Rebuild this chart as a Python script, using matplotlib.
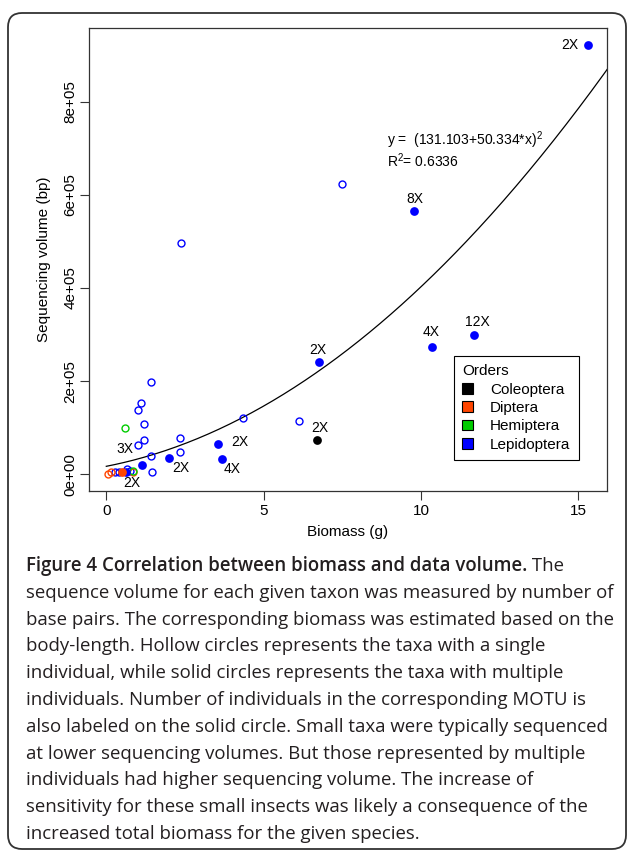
import matplotlib
matplotlib.use("Agg")
import matplotlib.pyplot as plt
import numpy as np
from matplotlib.patches import FancyBboxPatch, Patch
from matplotlib.transforms import IdentityTransform

# ---------------- data ----------------
orders = ["Coleoptera", "Diptera", "Hemiptera", "Lepidoptera"]
order_colors = ["#000000", "#FF4500", "#00CC00", "#0000FF"]

# hollow circles: taxa with a single individual
lep_single_x = [0.29, 0.40, 0.66, 0.75, 1.00, 1.01, 1.11, 1.19, 1.20, 1.42, 1.42, 1.45,
                2.34, 2.34, 2.36, 4.34, 6.12, 7.50]
lep_single_y = [6e3, 6e3, 1.1e4, 8e3, 6.3e4, 1.39e5, 1.53e5, 1.07e5, 7.3e4, 1.98e5, 3.9e4, 6e3,
                7.9e4, 4.8e4, 4.96e5, 1.20e5, 1.14e5, 6.24e5]
dip_single_x = [0.06, 0.14, 0.84]
dip_single_y = [1e3, 5e3, 4e3]
hem_single_x = [0.60, 0.84]
hem_single_y = [9.9e4, 7e3]

# solid circles: taxa with multiple individuals
lep_multi_x = [0.62, 1.12, 2.00, 3.54, 3.69, 6.76, 9.79, 10.35, 11.69, 15.30]
lep_multi_y = [5e3, 2.1e4, 3.4e4, 6.4e4, 3.2e4, 2.41e5, 5.65e5, 2.73e5, 3.00e5, 9.21e5]
lep_multi_lab = ["", "3X", "2X", "2X", "4X", "2X", "8X", "4X", "12X", "2X"]
col_multi_x = [6.69]
col_multi_y = [7.3e4]
col_multi_lab = ["2X"]
dip_multi_x = [0.51]
dip_multi_y = [6e3]
dip_multi_lab = ["2X"]

fit_a, fit_b, fit_r2 = 131.103, 50.334, 0.6336

xticks = [0, 5, 10, 15]
yticks = [0, 2e5, 4e5, 6e5, 8e5]
ytick_labels = ["0e+00", "2e+05", "4e+05", "6e+05", "8e+05"]

caption_title = "Figure 4 Correlation between biomass and data volume."
caption_lines = [
    " The",
    "sequence volume for each given taxon was measured by number of",
    "base pairs. The corresponding biomass was estimated based on the",
    "body-length. Hollow circles represents the taxa with a single",
    "individual, while solid circles represents the taxa with multiple",
    "individuals. Number of individuals in the corresponding MOTU is",
    "also labeled on the solid circle. Small taxa were typically sequenced",
    "at lower sequencing volumes. But those represented by multiple",
    "individuals had higher sequencing volume. The increase of",
    "sensitivity for these small insects was likely a consequence of the",
    "increased total biomass for the given species.",
]

# ---------------- style ----------------
plt.rcParams["font.family"] = ["Liberation Sans", "DejaVu Sans"]
plt.rcParams["mathtext.fontset"] = "custom"
plt.rcParams["mathtext.rm"] = "Liberation Sans"
plt.rcParams["mathtext.it"] = "Liberation Sans:italic"
plt.rcParams["mathtext.bf"] = "Liberation Sans:bold"

W, H = 629, 851
fig = plt.figure(figsize=(W / 100, H / 100), dpi=100)

# rounded outer frame
frame = FancyBboxPatch((8, H - 849), 618, 836, boxstyle="round,pad=0,rounding_size=14",
                       transform=IdentityTransform(), fill=False, ec="#333333", lw=1.3)
fig.patches.append(frame)

ax_l, ax_r, ax_t, ax_b = 89, 607, 28, 491
ax = fig.add_axes([ax_l / W, 1 - ax_b / H, (ax_r - ax_l) / W, (ax_b - ax_t) / H])

ms_h, ms_s = 5.0, 6.3
for xs, ys, c in [(lep_single_x, lep_single_y, order_colors[3]),
                  (dip_single_x, dip_single_y, order_colors[1]),
                  (hem_single_x, hem_single_y, order_colors[2])]:
    ax.plot(xs, ys, "o", mfc="none", mec=c, ms=ms_h, mew=1.0, ls="none", zorder=3)

label_off = {  # offsets in points for "nX" labels
    "lep": [(0, 0), (-12, 11), (8, -7), (16, 2), (7, -7), (-1, 9), (0, 9), (-1, 11), (2, 9), (-13, 0)],
    "col": [(2, 9)],
    "dip": [(7, -8)],
}
for key, xs, ys, labs, c in [("lep", lep_multi_x, lep_multi_y, lep_multi_lab, order_colors[3]),
                             ("col", col_multi_x, col_multi_y, col_multi_lab, order_colors[0]),
                             ("dip", dip_multi_x, dip_multi_y, dip_multi_lab, order_colors[1])]:
    ax.plot(xs, ys, "o", mfc=c, mec=c, ms=ms_s, mew=0, ls="none", zorder=4)
    for (x, y, lab, off) in zip(xs, ys, labs, label_off[key]):
        if lab:
            ax.annotate(lab, (x, y), xytext=off, textcoords="offset points",
                        ha="center", va="center", fontsize=10, color="black", zorder=5)

all_x = lep_single_x + dip_single_x + hem_single_x + lep_multi_x + col_multi_x + dip_multi_x
all_y = lep_single_y + dip_single_y + hem_single_y + lep_multi_y + col_multi_y + dip_multi_y
rx = max(all_x) - min(all_x)
ry = max(all_y) - min(all_y)
ax.set_xlim(min(all_x) - 0.04 * rx, max(all_x) + 0.04 * rx)
ax.set_ylim(min(all_y) - 0.04 * ry, max(all_y) + 0.04 * ry)

xf = np.linspace(0, 17, 300)
ax.plot(xf, (fit_a + fit_b * xf) ** 2, color="black", lw=0.9, zorder=2)

eq_text = (r"y =  (%.3f+%.3f*x)$^{2}$" % (fit_a, fit_b)) + "\n" + (r"R$^{2}$= %.4f" % fit_r2)
ax.text(387, H - 149.5, eq_text, transform=IdentityTransform(),
        fontsize=10, ha="left", va="center", linespacing=1.0)

ax.set_xticks(xticks)
ax.set_xticklabels([str(t) for t in xticks])
ax.set_yticks(yticks)
ax.set_yticklabels(ytick_labels, rotation=90, va="center")
ax.tick_params(direction="out", length=6.5, width=0.8, labelsize=11, color="#333333")
ax.tick_params(axis="x", pad=3)
ax.tick_params(axis="y", pad=2)
for s in ax.spines.values():
    s.set_linewidth(0.9)
    s.set_color("#333333")
ax.set_xlabel("Biomass (g)", fontsize=11, labelpad=5)
ax.set_ylabel("Sequencing volume (bp)", fontsize=11, labelpad=9)

handles = [Patch(facecolor=c, edgecolor="black", lw=0.8) for c in order_colors]
leg = ax.legend(handles, orders, title="Orders", loc="upper left",
                bbox_to_anchor=((454 - ax_l) / (ax_r - ax_l), (ax_b - 356) / (ax_b - ax_t)),
                fontsize=11, title_fontsize=11, frameon=True, fancybox=False,
                edgecolor="black", framealpha=1, borderpad=0.55, labelspacing=0.28,
                handlelength=0.7, handleheight=0.7, handletextpad=1.1, borderaxespad=0)
leg._legend_box.align = "left"
leg.get_frame().set_linewidth(0.8)

# ---------------- caption ----------------
cap_font = ["Open Sans", "DejaVu Sans"]
cap_color = "#231F20"
fig.canvas.draw()
renderer = fig.canvas.get_renderer()

def width_of(txt, fs, weight="normal"):
    t = fig.text(0, 0, txt, fontsize=fs, family=cap_font, fontweight=weight)
    w = t.get_window_extent(renderer).width
    t.remove()
    return w

fs = 13.0
target = 612 - 26
w0 = width_of(caption_lines[1], fs)
fs = fs * target / w0

x0 = 26
y_first = 565
step = 26.8
tb = fig.text(x0 / W, 1 - (y_first + 6) / H, caption_title, fontsize=fs, family=cap_font,
              fontweight="semibold", color=cap_color, va="baseline")
wt = tb.get_window_extent(renderer).width
fig.text((x0 + wt) / W, 1 - (y_first + 6) / H, caption_lines[0], fontsize=fs, family=cap_font,
         color=cap_color, va="baseline")
for i, line in enumerate(caption_lines[1:], start=1):
    fig.text(x0 / W, 1 - (y_first + i * step + 6) / H, line, fontsize=fs, family=cap_font,
             color=cap_color, va="baseline")

fig.savefig("out.png", dpi=100)
